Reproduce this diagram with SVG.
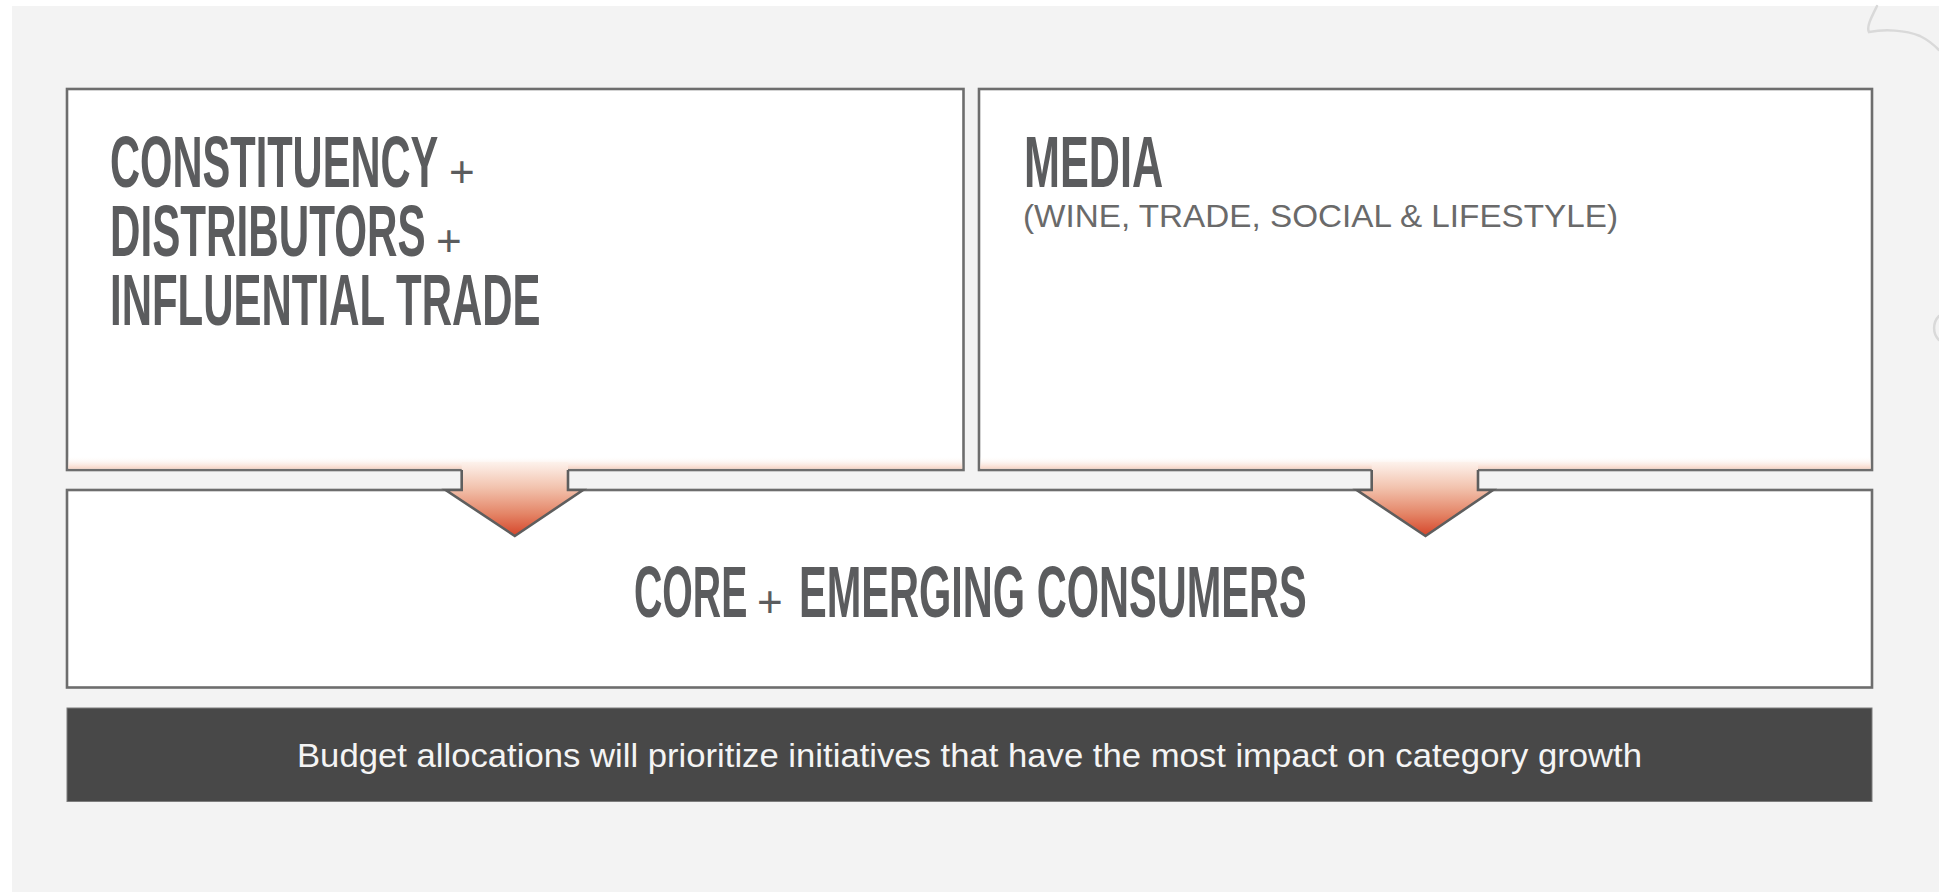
<svg xmlns="http://www.w3.org/2000/svg" width="1939" height="892" viewBox="0 0 1939 892">
  <defs>
    <linearGradient id="arrowFill" gradientUnits="userSpaceOnUse" x1="0" y1="462" x2="0" y2="536">
      <stop offset="0" stop-color="#fdf2ec"/>
      <stop offset="0.35" stop-color="#f2c2ad"/>
      <stop offset="0.7" stop-color="#e48567"/>
      <stop offset="1" stop-color="#d5452a"/>
    </linearGradient>
    <linearGradient id="edgeGlow" x1="0" y1="0" x2="0" y2="1">
      <stop offset="0" stop-color="#ffffff" stop-opacity="0"/>
      <stop offset="1" stop-color="#f7d3c3"/>
    </linearGradient>
    <style>
      .box { fill: #ffffff; stroke: #6d6d6d; stroke-width: 2.6; }
      .glow { fill: url(#edgeGlow); }
      /* condensed headings: Arial-metric bold, squeezed horizontally by transform */
      .head { font-family: "Liberation Sans", Arial, sans-serif; font-weight: bold; font-size: 72px; fill: #5b5c5e; }
      .plus { font-family: "Liberation Sans", Arial, sans-serif; font-weight: normal; font-size: 44px; fill: #5b5c5e; }
      .sub { font-family: "Liberation Sans", Arial, sans-serif; font-size: 31px; fill: #6a6a6a; }
      .note { font-family: "Liberation Sans", Arial, sans-serif; font-size: 33px; fill: #f4f4f4; }
      .arrow { fill: url(#arrowFill); }
      .arrow-edge { fill: none; stroke: #5e5e5e; stroke-width: 2.6; stroke-linejoin: miter; }
      .doodle { fill: none; stroke: #d9d9d9; stroke-width: 2.5; stroke-linecap: round; }
    </style>
  </defs>

  <!-- page -->
  <rect x="0" y="0" width="1939" height="892" fill="#ffffff"/>
  <rect x="12" y="6" width="1927" height="886" fill="#f3f3f3"/>
  <path class="doodle" d="M1877,6 C1872,16 1866,27 1869,32 C1885,29 1905,30 1920,36 C1928,40 1934,45 1939,50"/>
  <path class="doodle" d="M1939,316 C1933,322 1932,333 1939,340"/>

  <!-- source: constituency, distributors, trade -->
  <g id="node-constituency">
    <rect class="box" x="67" y="89" width="896.5" height="381"/>
    <rect class="glow" x="68.3" y="456" width="893.9" height="12.7"/>
    <text class="head" transform="translate(110 187) scale(0.578 1)">CONSTITUENCY</text>
    <text class="plus" x="449" y="187">+</text>
    <text class="head" transform="translate(110 256) scale(0.586 1)">DISTRIBUTORS</text>
    <text class="plus" x="436" y="256">+</text>
    <text class="head" transform="translate(110 325) scale(0.583 1)">INFLUENTIAL TRADE</text>
  </g>

  <!-- source: media -->
  <g id="node-media">
    <rect class="box" x="979" y="89" width="893" height="381"/>
    <rect class="glow" x="980.3" y="456" width="890.4" height="12.7"/>
    <text class="head" transform="translate(1024 187) scale(0.6 1)">MEDIA</text>
    <text class="sub" x="1023" y="227" textLength="595" lengthAdjust="spacingAndGlyphs">(WINE, TRADE, SOCIAL &amp; LIFESTYLE)</text>
  </g>

  <!-- target: consumers -->
  <g id="node-consumers">
    <rect class="box" x="67" y="490" width="1805" height="197.5"/>
    <text class="head" transform="translate(634 617) scale(0.545 1)">CORE</text>
    <text class="plus" x="757" y="617">+</text>
    <text class="head" transform="translate(799 617) scale(0.577 1)">EMERGING CONSUMERS</text>
  </g>

  <!-- flow arrows into consumers -->
  <g id="connectors">
    <g id="arrow-constituency">
      <polygon class="arrow" points="461.7,462 568,462 568,490 583,490 514.8,536 445.7,490 461.7,490"/>
      <path class="arrow-edge" d="M461.7,470 V490 H445.7 L514.8,536 L583,490 H568 V470"/>
    </g>
    <g id="arrow-media">
      <polygon class="arrow" points="1371.7,462 1478,462 1478,490 1493,490 1425.5,536 1356.7,490 1371.7,490"/>
      <path class="arrow-edge" d="M1371.7,470 V490 H1356.7 L1425.5,536 L1493,490 H1478 V470"/>
    </g>
  </g>

  <!-- summary bar -->
  <g id="node-summary">
    <rect x="67" y="708" width="1805" height="93.5" fill="#484848" stroke="#7c7c7c" stroke-width="1"/>
    <text class="note" x="297" y="767" textLength="1345" lengthAdjust="spacingAndGlyphs">Budget allocations will prioritize initiatives that have the most impact on category growth</text>
  </g>
</svg>
